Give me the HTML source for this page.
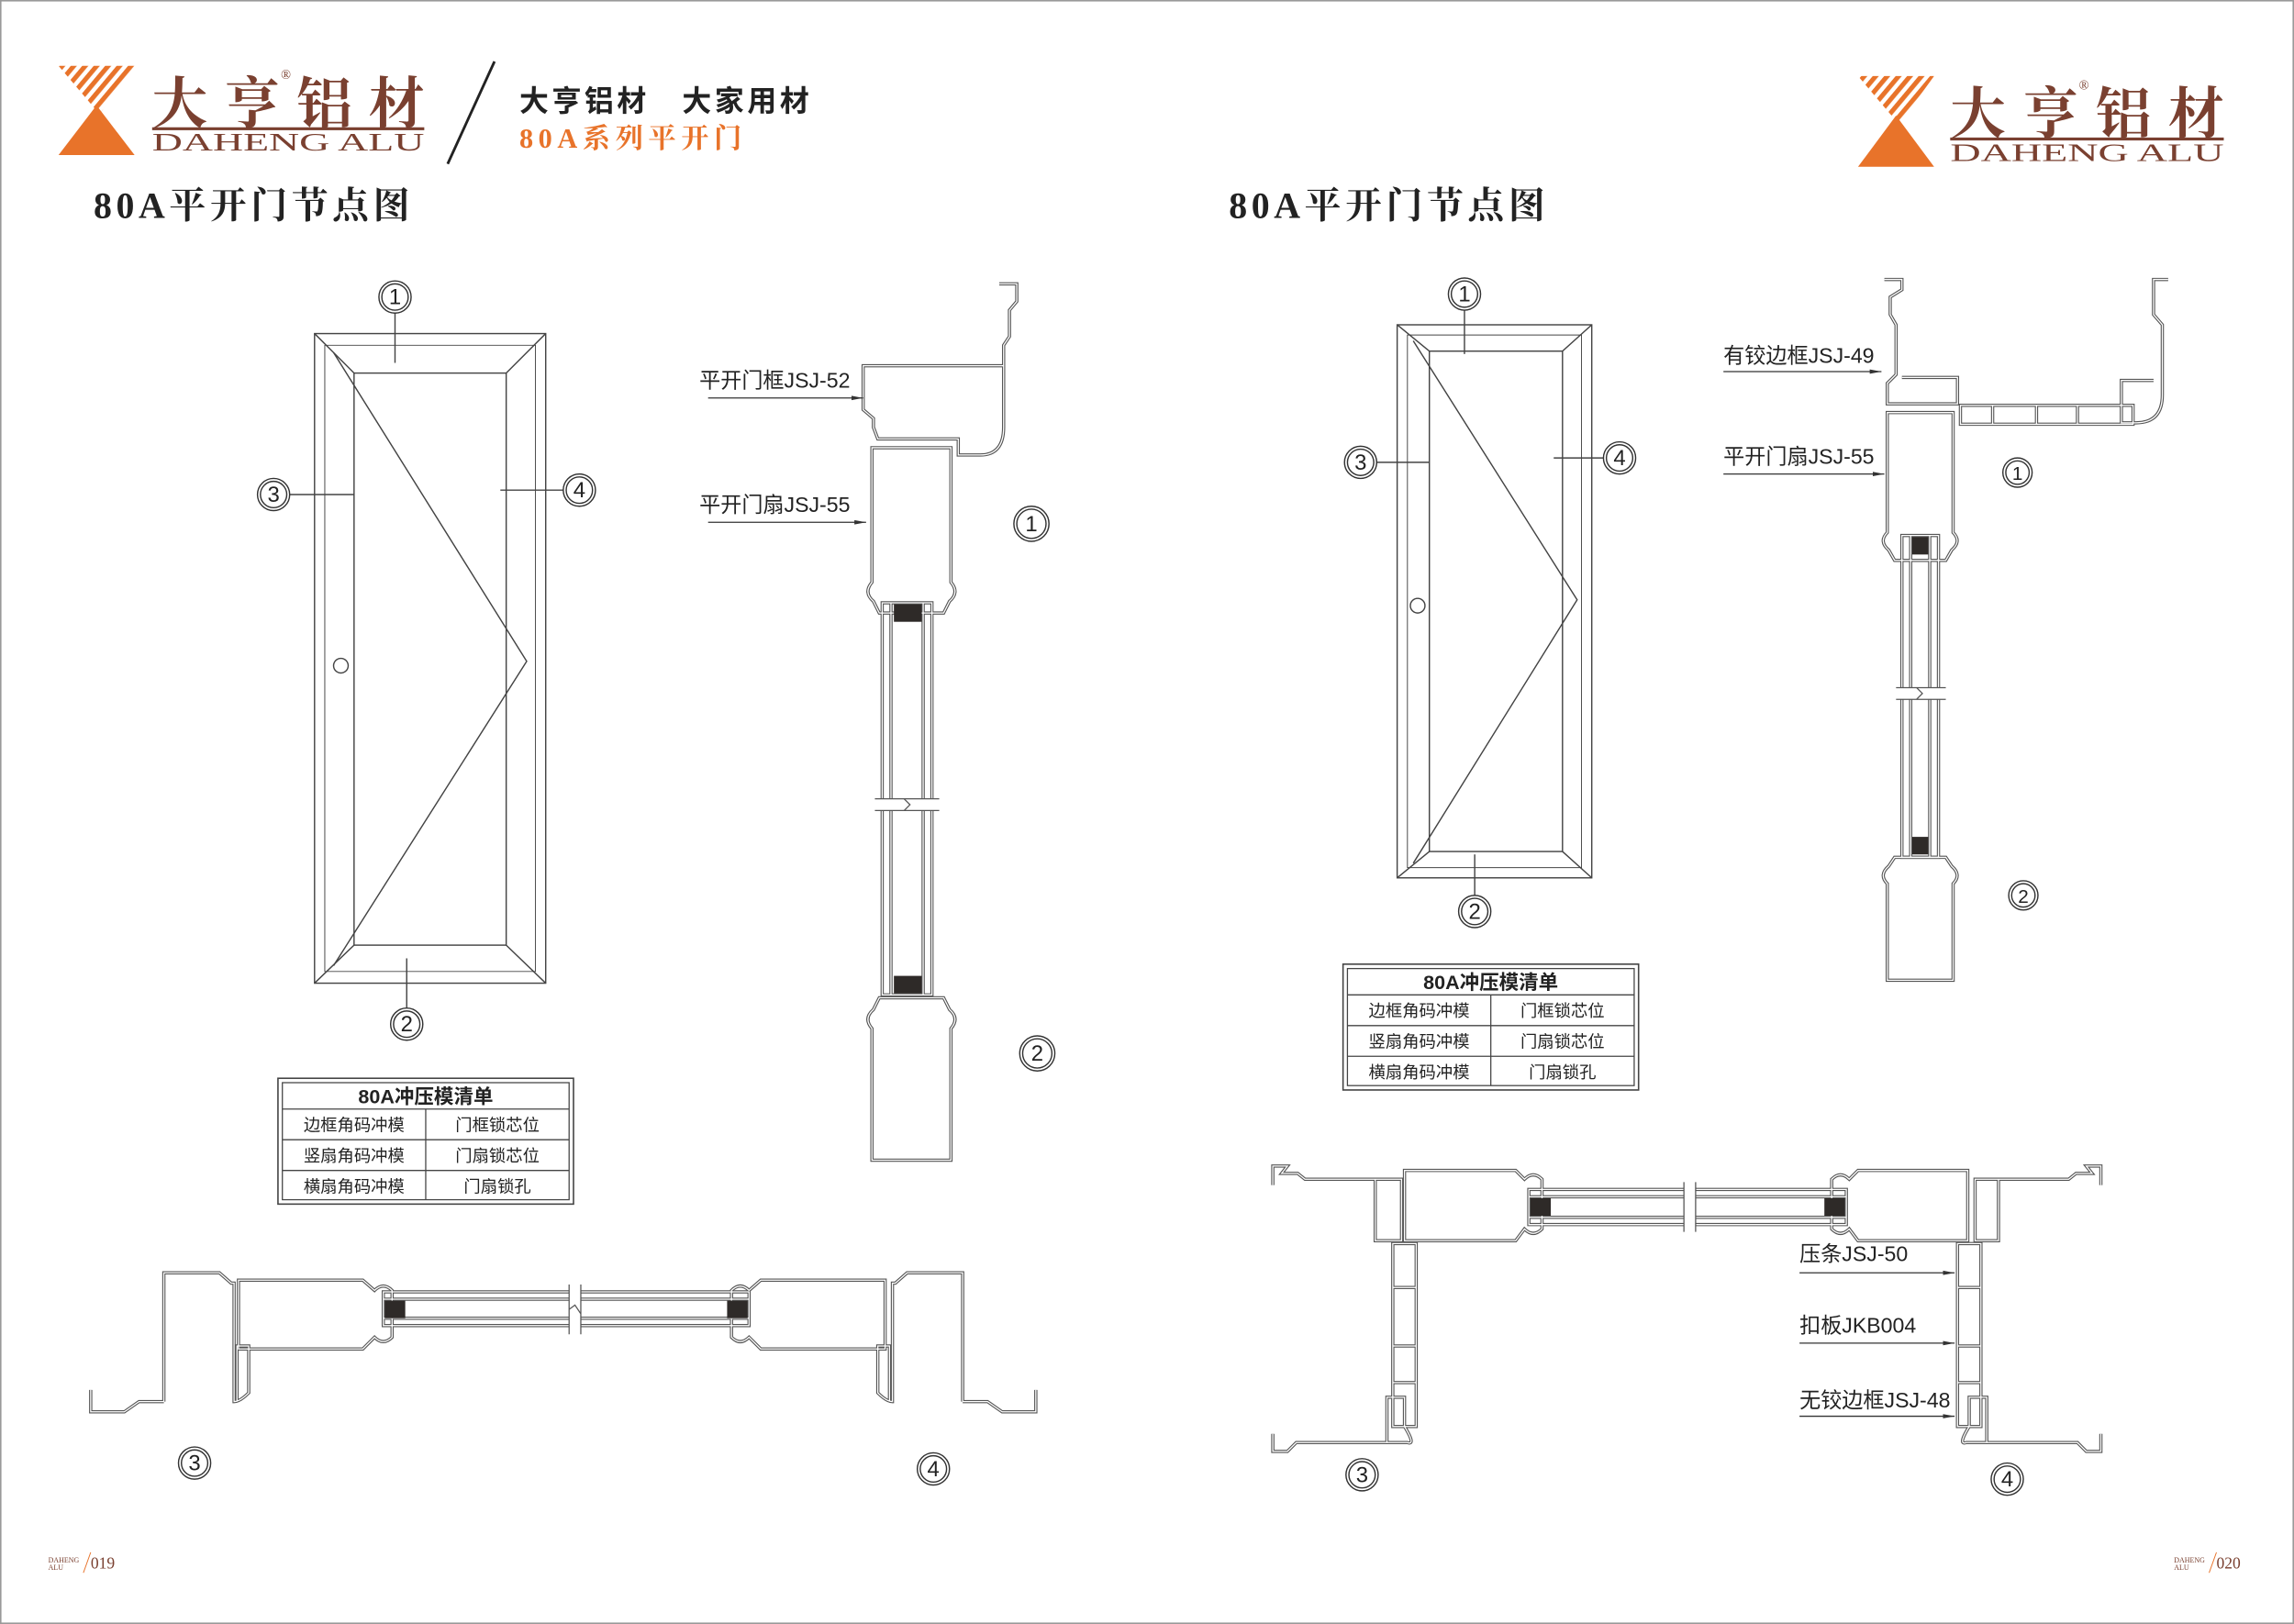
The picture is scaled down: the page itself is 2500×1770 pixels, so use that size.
<!DOCTYPE html>
<html><head><meta charset="utf-8"><style>
html,body{margin:0;padding:0;background:#fff;}
svg{display:block;}
.dk{fill:none;stroke:#555;stroke-width:2.2;}
.wt{fill:none;stroke:#fff;stroke-width:0.8;}
.ln{fill:none;stroke:#444;stroke-width:0.9;}
.t{font-family:"Liberation Sans","Noto Sans CJK SC",sans-serif;fill:#222;}
.s{font-family:"Liberation Serif","Noto Serif CJK SC",serif;}
</style></head><body>
<svg width="2500" height="1770" viewBox="0 0 1568 1110" preserveAspectRatio="none" xmlns="http://www.w3.org/2000/svg">
<defs>
<pattern id="st" width="6" height="6" patternUnits="userSpaceOnUse" patternTransform="rotate(-50)">
<rect width="6" height="3.2" fill="#e8732a"/></pattern>
<marker id="ar" markerWidth="8" markerHeight="6" refX="8" refY="3" orient="auto" markerUnits="userSpaceOnUse"><path d="M0,1.5 L8,3 L0,4.5Z" fill="#333"/></marker>

<g id="lv">
<path d="M683,194 H695 V206 L690,212 V230 L686,236 V250 V292 Q686,311 670,311 H655 V300 H600 L597,292 V286 L590,280 V250 H686"/>
<path d="M596,306 H650 V398 Q656,405 649,411 L645,419 H601 L597,411 Q590,405 596,398 Z"/>
<path d="M601,682 H645 L649,690 Q656,696 650,703 V793 H596 V703 Q590,696 597,690 Z"/>
<path d="M603,412 V680 H637 V412 Z"/>
<path d="M609,412 V680 M631,412 V680"/>
</g>
<g id="lh">
<path d="M112,958 V870 H150 L158,877 H160 V958 Q164,958 170,952 V920 H162 V958 M112,958 H95 L85,965 H62 V950"/>
<path d="M163,875 H248 L256,882 Q262,876 268,882 V914 Q262,920 256,914 L248,922 H163 Z"/>
<path d="M262,883 H512 V906 H262 Z M262,888 H512 M262,901 H512"/>
<path d="M605,875 H520 L512,882 Q506,876 500,882 V914 Q506,920 512,914 L520,922 H605 Z"/>
<path d="M658,958 V870 H620 L612,877 H610 V958 Q606,958 600,952 V920 H608 V958 M658,958 H675 L685,965 H708 V950"/>
</g>
<g id="rv">
<path d="M1288,191 H1300 V198 L1292,203 V215 L1296,222 V256 L1290,262 V276 H1338 V258 H1300"/>
<path d="M1340,277 H1458 V290 H1340 Z M1362,277 V290 M1392,277 V290 M1420,277 V290"/>
<path d="M1482,191 H1472 V215 L1478,222 V270 Q1478,289 1460,289 H1450 V260 H1472"/>
<path d="M1290,282 H1335 V364 Q1341,370 1334,376 L1330,383 H1295 L1291,376 Q1284,370 1290,364 Z"/>
<path d="M1295,586 H1330 L1334,592 Q1341,598 1335,604 V670 H1290 V604 Q1284,598 1291,592 Z"/>
<path d="M1300,366 V586 H1325 V366 Z M1306,366 V586 M1319,366 V586"/>
</g>
<g id="rh">
<path d="M870,810 V797 H880 L876,802 H887 L892,806 H940 V848 H958 V806 H940"/>
<path d="M960,800 H1036 L1042,806 Q1048,800 1054,806 V840 Q1048,846 1042,840 L1036,848 H960 Z"/>
<path d="M1045,813 H1262 V837 H1045 Z M1045,818 H1262 M1045,832 H1262"/>
<path d="M1345,800 H1270 L1264,806 Q1258,800 1252,806 V840 Q1258,846 1264,840 L1270,848 H1345 Z"/>
<path d="M1436,810 V797 H1426 L1430,802 H1419 L1414,806 H1366 V848 H1350 V806 H1366"/>
<path d="M952,850 H968 V975 H952 Z M952,880 H968 M952,920 H968 M952,945 H968"/>
<path d="M1338,850 H1354 V975 H1338 Z M1338,880 H1354 M1338,920 H1354 M1338,945 H1354"/>
<path d="M870,980 V992 H880 L886,986 H948 V955 H960 V975 Q968,988 962,986 H940"/>
<path d="M1436,980 V992 H1426 L1420,986 H1358 V955 H1346 V975 Q1338,988 1344,986 H1366"/>
</g>
</defs>

<rect x="0.5" y="0.5" width="1567" height="1109" fill="#fff" stroke="#999" stroke-width="1"/>

<polygon points="40,45 92,45 68,78" fill="url(#st)"/>
<polygon points="66,72 92,106 40,106" fill="#e8732a"/>
<text x="104" y="84" class="s" font-size="38" fill="#7a4030" font-weight="bold" textLength="186" lengthAdjust="spacing">大亨铝材</text>
<text x="192" y="54" font-size="9" fill="#7a4030" class="s">®</text>
<rect x="104" y="87" width="186" height="2" fill="#7a4030"/>
<text x="104" y="103" class="s" font-size="17" fill="#7a4030" textLength="186" lengthAdjust="spacingAndGlyphs">DAHENG ALU</text>
<line x1="338" y1="42" x2="306" y2="112" stroke="#222" stroke-width="1.8"/>
<text x="355" y="76" class="t" font-size="20" font-weight="bold" textLength="198" lengthAdjust="spacing">大亨铝材　大家用材</text>
<text x="355" y="101" class="s" font-size="19" font-weight="bold" fill="#e8732a" textLength="152" lengthAdjust="spacing">80A系列平开门</text>
<text x="64" y="149" class="s" font-size="25" font-weight="bold" fill="#222" textLength="216" lengthAdjust="spacing">80A平开门节点图</text>

<polygon points="1270,52 1322,52 1298,85" fill="url(#st)"/>
<polygon points="1296,79 1322,114 1270,114" fill="#e8732a"/>
<text x="1333" y="91" class="s" font-size="38" fill="#7a4030" font-weight="bold" textLength="187" lengthAdjust="spacing">大亨铝材</text>
<text x="1421" y="61" font-size="9" fill="#7a4030" class="s">®</text>
<rect x="1333" y="94" width="187" height="2" fill="#7a4030"/>
<text x="1333" y="110" class="s" font-size="17" fill="#7a4030" textLength="187" lengthAdjust="spacingAndGlyphs">DAHENG ALU</text>
<text x="840" y="149" class="s" font-size="25" font-weight="bold" fill="#222" textLength="216" lengthAdjust="spacing">80A平开门节点图</text>

<g class="ln">
<rect x="215" y="228" width="158" height="444"/>
<rect x="242" y="255" width="104" height="391"/>
<path d="M215,228 L242,255 M373,228 L346,255 M215,672 L242,646 M373,672 L346,646"/>
<path d="M222,236 H366 V664 H222 Z" stroke-width="0.6"/>
<path d="M228,241 L360,452 L228,660"/>
<circle cx="233" cy="455" r="5"/>
<path d="M270,214 V248 M198,338 H242 M385,335 H342 M278,689 V655"/>
</g>
<g class="ln">
<rect x="955" y="222" width="133" height="378"/>
<rect x="977" y="240" width="91" height="342"/>
<path d="M955,222 L977,240 M1088,222 L1068,240 M955,600 L977,582 M1088,600 L1068,582"/>
<path d="M962,229 H1081 V593 H962 Z" stroke-width="0.6"/>
<path d="M966,233 L1078,410 L966,590"/>
<circle cx="969" cy="414" r="5"/>
<path d="M1001,212 V242 M941,316 H977 M1096,313 H1062 M1008,612 V584"/>
</g>

<g font-family="Liberation Sans, sans-serif" font-size="15" fill="#222" text-anchor="middle">
<g fill="none" stroke="#333" stroke-width="0.9">
<circle cx="270" cy="203" r="11"/><circle cx="270" cy="203" r="9"/>
<circle cx="187" cy="338" r="11"/><circle cx="187" cy="338" r="9"/>
<circle cx="396" cy="335" r="11"/><circle cx="396" cy="335" r="9"/>
<circle cx="278" cy="700" r="11"/><circle cx="278" cy="700" r="9"/>
<circle cx="705" cy="358" r="12"/><circle cx="705" cy="358" r="10"/>
<circle cx="709" cy="720" r="12"/><circle cx="709" cy="720" r="10"/>
<circle cx="133" cy="1000" r="11"/><circle cx="133" cy="1000" r="9"/>
<circle cx="638" cy="1004" r="11"/><circle cx="638" cy="1004" r="9"/>
<circle cx="1001" cy="201" r="11"/><circle cx="1001" cy="201" r="9"/>
<circle cx="930" cy="316" r="11"/><circle cx="930" cy="316" r="9"/>
<circle cx="1107" cy="313" r="11"/><circle cx="1107" cy="313" r="9"/>
<circle cx="1008" cy="623" r="11"/><circle cx="1008" cy="623" r="9"/>
<circle cx="1379" cy="323" r="10"/><circle cx="1379" cy="323" r="8"/>
<circle cx="1383" cy="612" r="10"/><circle cx="1383" cy="612" r="8"/>
<circle cx="931" cy="1008" r="11"/><circle cx="931" cy="1008" r="9"/>
<circle cx="1372" cy="1011" r="11"/><circle cx="1372" cy="1011" r="9"/>
</g>
<text x="270" y="208">1</text><text x="187" y="343">3</text><text x="396" y="340">4</text><text x="278" y="705">2</text>
<text x="705" y="363">1</text><text x="709" y="725">2</text><text x="133" y="1005">3</text><text x="638" y="1009">4</text>
<text x="1001" y="206">1</text><text x="930" y="321">3</text><text x="1107" y="318">4</text><text x="1008" y="628">2</text>
<text x="1379" y="328" font-size="13">1</text><text x="1383" y="617" font-size="13">2</text>
<text x="931" y="1013">3</text><text x="1372" y="1016">4</text>
</g>

<use href="#lv" class="dk"/><use href="#lv" class="wt"/>
<use href="#lh" class="dk"/><use href="#lh" class="wt"/>
<use href="#rv" class="dk"/><use href="#rv" class="wt"/>
<use href="#rh" class="dk"/><use href="#rh" class="wt"/>
<g fill="#2e2a28">
<rect x="611" y="413" width="19" height="12"/><rect x="611" y="667" width="19" height="12"/>
<rect x="263" y="889" width="14" height="12"/><rect x="497" y="889" width="14" height="12"/>
<rect x="1307" y="367" width="11" height="12"/><rect x="1307" y="572" width="11" height="12"/>
<rect x="1046" y="819" width="14" height="12"/><rect x="1247" y="819" width="14" height="12"/>
</g>
<g fill="#fff" stroke="#555" stroke-width="0.8">
<rect x="598" y="546" width="44" height="8" stroke="none"/>
<path d="M598,546 H642 M598,554 H642" fill="none"/>
<path d="M618,546 L622,550 L618,554" fill="none"/>
<rect x="389" y="878" width="8" height="34" stroke="none"/>
<path d="M389,878 V912 M397,878 V912 M389,895 L393,892 L397,898" fill="none"/>
<rect x="1296" y="470" width="34" height="8" stroke="none"/>
<path d="M1296,470 H1330 M1296,478 H1330 M1310,470 L1314,474 L1310,478" fill="none"/>
<rect x="1151" y="808" width="8" height="34" stroke="none"/>
<path d="M1151,808 V842 M1159,808 V842" fill="none"/>
</g>

<g class="t" font-size="14.5">
<text x="478" y="265">平开门框JSJ-52</text>
<text x="478" y="350">平开门扇JSJ-55</text>
<text x="1178" y="248">有铰边框JSJ-49</text>
<text x="1178" y="317">平开门扇JSJ-55</text>
<text x="1230" y="862">压条JSJ-50</text>
<text x="1230" y="911">扣板JKB004</text>
<text x="1230" y="962">无铰边框JSJ-48</text>
</g>
<g stroke="#333" stroke-width="0.8" marker-end="url(#ar)">
<line x1="484" y1="272" x2="590" y2="272"/>
<line x1="484" y1="357" x2="592" y2="357"/>
<line x1="1178" y1="254" x2="1286" y2="254"/>
<line x1="1178" y1="324" x2="1288" y2="324"/>
<line x1="1230" y1="870" x2="1336" y2="870"/>
<line x1="1230" y1="918" x2="1336" y2="918"/>
<line x1="1230" y1="968" x2="1336" y2="968"/>
</g>

<g>
<rect x="190" y="737" width="202" height="86" fill="none" stroke="#444" stroke-width="1"/>
<rect x="193" y="740" width="196" height="80" fill="none" stroke="#444" stroke-width="0.8"/>
<path d="M193,758 H389 M193,779 H389 M193,800 H389 M291,758 V820" stroke="#444" stroke-width="0.8"/>
<g class="t" font-size="11.5" text-anchor="middle">
<text x="291" y="754" font-size="13.5" font-weight="bold">80A冲压模清单</text>
<text x="242" y="773">边框角码冲模</text><text x="340" y="773">门框锁芯位</text>
<text x="242" y="794">竖扇角码冲模</text><text x="340" y="794">门扇锁芯位</text>
<text x="242" y="815">横扇角码冲模</text><text x="340" y="815">门扇锁孔</text>
</g>
<rect x="918" y="659" width="202" height="86" fill="none" stroke="#444" stroke-width="1"/>
<rect x="921" y="662" width="196" height="80" fill="none" stroke="#444" stroke-width="0.8"/>
<path d="M921,680 H1117 M921,701 H1117 M921,722 H1117 M1019,680 V742" stroke="#444" stroke-width="0.8"/>
<g class="t" font-size="11.5" text-anchor="middle">
<text x="1019" y="676" font-size="13.5" font-weight="bold">80A冲压模清单</text>
<text x="970" y="695">边框角码冲模</text><text x="1068" y="695">门框锁芯位</text>
<text x="970" y="716">竖扇角码冲模</text><text x="1068" y="716">门扇锁芯位</text>
<text x="970" y="737">横扇角码冲模</text><text x="1068" y="737">门扇锁孔</text>
</g>
</g>

<g class="s" fill="#7a4030">
<text x="33" y="1068" font-size="5">DAHENG</text><text x="33" y="1073" font-size="5">ALU</text>
<line x1="57" y1="1075" x2="62" y2="1061" stroke="#e8732a" stroke-width="0.6"/>
<text x="62" y="1072" font-size="11">019</text>
<text x="1486" y="1068" font-size="5">DAHENG</text><text x="1486" y="1073" font-size="5">ALU</text>
<line x1="1510" y1="1075" x2="1515" y2="1061" stroke="#e8732a" stroke-width="0.6"/>
<text x="1515" y="1072" font-size="11">020</text>
</g>
</svg>
</body></html>
